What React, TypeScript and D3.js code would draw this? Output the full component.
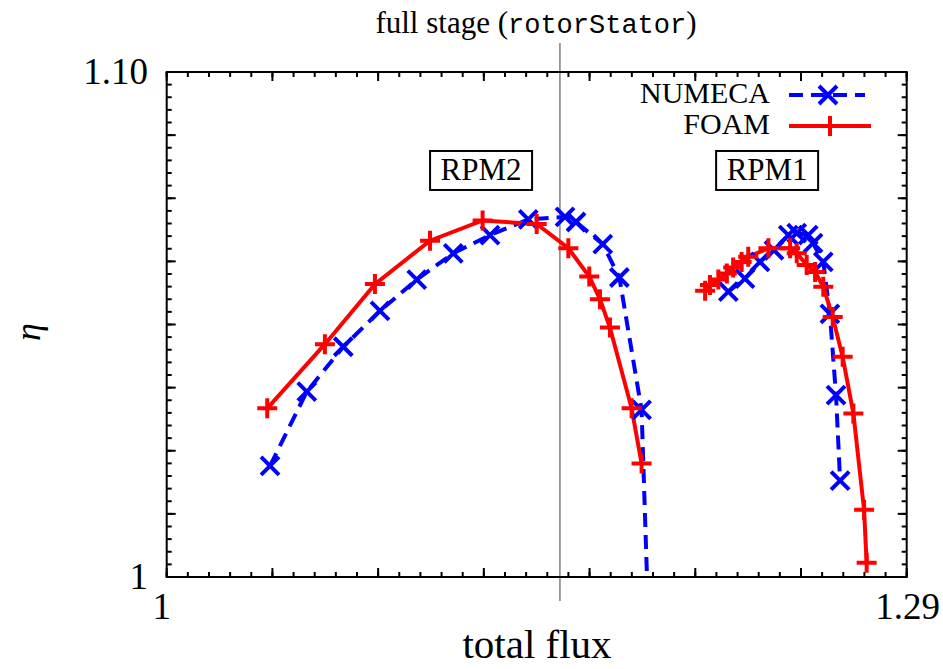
import React from "react";
import * as d3 from "d3";

// ---- data ----
const rpm2FoamX = [1.0394, 1.062, 1.0816, 1.1032, 1.1238, 1.145, 1.1574, 1.1656, 1.1698, 1.1737, 1.1822, 1.1861];
const rpm2FoamY = [1.0334, 1.0461, 1.058, 1.0666, 1.0706, 1.0699, 1.0651, 1.0595, 1.055, 1.0494, 1.0334, 1.0225];

const rpm2NumecaX = [1.0405, 1.0549, 1.0692, 1.0836, 1.098, 1.1123, 1.1267, 1.1417, 1.1561, 1.1604, 1.1709, 1.1774, 1.1861, 1.1895];
const rpm2NumecaY = [1.022, 1.0367, 1.0456, 1.0527, 1.0589, 1.0641, 1.0677, 1.0708, 1.0713, 1.0703, 1.0659, 1.0593, 1.0331, 0.98];

const rpm1FoamX = [1.211, 1.2129, 1.2162, 1.2195, 1.222, 1.2253, 1.2279, 1.2358, 1.2443, 1.2469, 1.2508, 1.2541, 1.2573, 1.261, 1.2649, 1.2691, 1.2733, 1.2743];
const rpm1FoamY = [1.0567, 1.0578, 1.0589, 1.0601, 1.0613, 1.0624, 1.0634, 1.0651, 1.0651, 1.0641, 1.0618, 1.0604, 1.0575, 1.0515, 1.0436, 1.0324, 1.0133, 1.0028];

const rpm1NumecaX = [1.2201, 1.2266, 1.2325, 1.238, 1.2436, 1.2469, 1.2514, 1.2533, 1.2573, 1.2599, 1.2623, 1.2639];
const rpm1NumecaY = [1.0565, 1.0591, 1.0624, 1.0647, 1.0677, 1.0681, 1.0677, 1.0661, 1.0624, 1.0521, 1.036, 1.0191];

const xDomain = [1, 1.29];
const yDomain = [1, 1.1];
const xTickLabels = [
  { v: 1, label: "1" },
  { v: 1.29, label: "1.29" },
];
const yTickLabels = [
  { v: 1, label: "1" },
  { v: 1.1, label: "1.10" },
];
const stageLineX = 1.1541;
const seriesNames = ["NUMECA", "FOAM"];
const regionLabels = [
  { label: "RPM2", x: 1.1232, y: 1.0805 },
  { label: "RPM1", x: 1.2353, y: 1.0805 },
];

type Pt = [number, number];
const zip = (xs: number[], ys: number[]): Pt[] => xs.map((x, i) => [x, ys[i]]);

const BLUE = "#0000ff";
const RED = "#ff0000";
const SERIF = "Liberation Serif, DejaVu Serif, Times New Roman, Times, serif";
const MONO = "Liberation Mono, DejaVu Sans Mono, monospace";

export default function App() {
  const L = 166.7, R = 906.7, T = 72, B = 577;
  const x = d3.scaleLinear().domain(xDomain).range([L, R]);
  const y = d3.scaleLinear().domain(yDomain).range([B, T]);
  const line = d3
    .line<Pt>()
    .x((d) => x(d[0]))
    .y((d) => y(d[1]));

  const xMajor = d3.range(8).map((i) => xDomain[0] + (i * (xDomain[1] - xDomain[0])) / 7);
  const xMinor = d3.range(36).map((i) => xDomain[0] + (i * (xDomain[1] - xDomain[0])) / 35);
  const yMajor = d3.range(9).map((i) => yDomain[0] + (i * (yDomain[1] - yDomain[0])) / 8);
  const yMinor = d3.range(41).map((i) => yDomain[0] + (i * (yDomain[1] - yDomain[0])) / 40);

  const numeca = [zip(rpm2NumecaX, rpm2NumecaY), zip(rpm1NumecaX, rpm1NumecaY)];
  const foam = [zip(rpm2FoamX, rpm2FoamY), zip(rpm1FoamX, rpm1FoamY)];

  const cross = (cx: number, cy: number, k: string, s = 9) => (
    <path
      key={k}
      d={`M${cx - s},${cy - s}L${cx + s},${cy + s}M${cx - s},${cy + s}L${cx + s},${cy - s}`}
      stroke={BLUE}
      strokeWidth={4}
      fill="none"
    />
  );
  const plus = (cx: number, cy: number, k: string, s = 10) => (
    <path
      key={k}
      d={`M${cx - s},${cy}L${cx + s},${cy}M${cx},${cy - s}L${cx},${cy + s}`}
      stroke={RED}
      strokeWidth={4}
      fill="none"
    />
  );

  const MJ = 9, MN = 5;

  return (
    <svg
      width={943}
      height={669}
      style={{ position: "absolute", left: 0, top: 0, background: "#fff" }}
      xmlns="http://www.w3.org/2000/svg"
    >
      <rect x={0} y={0} width={943} height={669} fill="#fff" />
      <defs>
        <clipPath id="plotClip">
          <rect x={L} y={T} width={R - L} height={B - T} />
        </clipPath>
      </defs>

      {/* ticks */}
      <g stroke="#000" strokeWidth={2}>
        {xMinor.map((v, i) => (
          <g key={"xm" + i}>
            <line x1={x(v)} x2={x(v)} y1={B} y2={B - MN} />
            <line x1={x(v)} x2={x(v)} y1={T} y2={T + MN} />
          </g>
        ))}
        {xMajor.map((v, i) => (
          <g key={"xM" + i}>
            <line x1={x(v)} x2={x(v)} y1={B} y2={B - MJ} />
            <line x1={x(v)} x2={x(v)} y1={T} y2={T + MJ} />
          </g>
        ))}
        {yMinor.map((v, i) => (
          <g key={"ym" + i}>
            <line x1={L} x2={L + MN} y1={y(v)} y2={y(v)} />
            <line x1={R} x2={R - MN} y1={y(v)} y2={y(v)} />
          </g>
        ))}
        {yMajor.map((v, i) => (
          <g key={"yM" + i}>
            <line x1={L} x2={L + MJ} y1={y(v)} y2={y(v)} />
            <line x1={R} x2={R - MJ} y1={y(v)} y2={y(v)} />
          </g>
        ))}
      </g>

      {/* stage line */}
      <line x1={x(stageLineX)} x2={x(stageLineX)} y1={43} y2={601} stroke="#808080" strokeWidth={1.5} />

      {/* region labels */}
      {regionLabels.map((r) => (
        <g key={r.label}>
          <rect
            x={x(r.x) - 51}
            y={y(r.y) - 19.5}
            width={102}
            height={39}
            fill="#fff"
            stroke="#000"
            strokeWidth={2}
          />
          <text
            x={x(r.x)}
            y={y(r.y) + 10}
            textAnchor="middle"
            style={{ fontFamily: SERIF, fontSize: "31px" }}
          >
            {r.label}
          </text>
        </g>
      ))}

      {/* series */}
      <g clipPath="url(#plotClip)">
        {numeca.map((s, i) => (
          <path
            key={"nl" + i}
            d={line(s) || ""}
            fill="none"
            stroke={BLUE}
            strokeWidth={4}
            strokeDasharray="14,8"
          />
        ))}
        {foam.map((s, i) => (
          <path key={"fl" + i} d={line(s) || ""} fill="none" stroke={RED} strokeWidth={4} />
        ))}
        {numeca.map((s, i) => s.map((d, j) => cross(x(d[0]), y(d[1]), `nm${i}-${j}`)))}
        {foam.map((s, i) => s.map((d, j) => plus(x(d[0]), y(d[1]), `fm${i}-${j}`)))}
      </g>

      {/* frame */}
      <rect x={L} y={T} width={R - L} height={B - T} fill="none" stroke="#000" strokeWidth={2} />

      {/* legend */}
      <g style={{ fontFamily: SERIF, fontSize: "30px" }}>
        <text x={770} y={103} textAnchor="end">
          {seriesNames[0]}
        </text>
        <line x1={789} x2={865} y1={95} y2={95} stroke={BLUE} strokeWidth={4} strokeDasharray="14,8" />
        {cross(828, 95, "legc")}
        <text x={770} y={134} textAnchor="end">
          {seriesNames[1]}
        </text>
        <line x1={789} x2={871} y1={126} y2={126} stroke={RED} strokeWidth={4} />
        {plus(830, 126, "legp")}
      </g>

      {/* tick labels */}
      <g style={{ fontFamily: SERIF, fontSize: "37px" }}>
        {xTickLabels.map((t) => (
          <text key={"xl" + t.label} x={x(t.v) + (t.v === 1 ? -5 : 1)} y={619} textAnchor="middle">
            {t.label}
          </text>
        ))}
        {yTickLabels.map((t) => (
          <text key={"yl" + t.label} x={148} y={y(t.v) + 12} textAnchor="end">
            {t.label}
          </text>
        ))}
      </g>

      {/* axis titles */}
      <text x={537} y={658} textAnchor="middle" style={{ fontFamily: SERIF, fontSize: "41px" }}>
        total flux
      </text>
      <text
        transform="translate(40,332) rotate(-90)"
        textAnchor="middle"
        style={{ fontFamily: SERIF, fontSize: "36px", fontStyle: "italic" }}
      >
        η
      </text>

      {/* title */}
      <text x={536} y={33} textAnchor="middle" style={{ fontFamily: SERIF, fontSize: "31px" }}>
        full stage (
        <tspan style={{ fontFamily: MONO, fontSize: "27px" }}>rotorStator</tspan>)
      </text>
    </svg>
  );
}
